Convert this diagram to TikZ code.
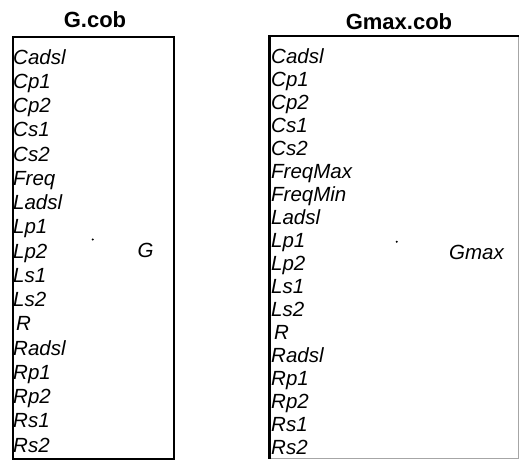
\documentclass[tikz,border=0pt]{standalone}
\usepackage{fontspec}
\setmainfont{Liberation Sans}
\begin{document}
\begin{tikzpicture}[x=1pt,y=-1pt,
  item/.style={anchor=base west,inner sep=0pt,font=\fontsize{20.5}{24}\selectfont\itshape},
  ttl/.style={anchor=base,inner sep=0pt,font=\fontsize{22}{26}\selectfont\bfseries},
  thick box/.style={line width=2.6pt,black},
  dotmark/.style={circle,fill=black,inner sep=0pt,minimum size=2.2pt}]
\useasboundingbox (0,0) rectangle (519,459);
% G block
\node[ttl] (gt) at (95,27) {G.cob};
\node[draw,thick box,anchor=north west,minimum width=161pt,minimum height=422pt,inner sep=0pt] (gbox) at (11.5,35.5) {};
\foreach \t [count=\i from 0] in {Cadsl,Cp1,Cp2,Cs1,Cs2,Freq,Ladsl,Lp1,Lp2,Ls1,Ls2,\hspace{3pt}R,Radsl,Rp1,Rp2,Rs1,Rs2}{
  \node[item] (g\i) at (13,64+24.25*\i) {\t};
}
\node[dotmark] (gd) at (92.7,239.5) {};
\node[item,anchor=center] (gl) at (145.5,250.5) {G};
% Gmax block
\node[ttl] (mt) at (399,29.5) {Gmax.cob};
\coordinate (m1) at (518.5,36);
\coordinate (m2) at (269.5,36);
\coordinate (m3) at (269.5,458);
\draw[gray!70,line width=0.9pt] (m1) -- (518.5,458) -- (m3);
\draw[thick box,line cap=rect] (m1) -- (m2) -- (m3);
\foreach \t [count=\i from 0] in {Cadsl,Cp1,Cp2,Cs1,Cs2,FreqMax,FreqMin,Ladsl,Lp1,Lp2,Ls1,Ls2,\hspace{3pt}R,Radsl,Rp1,Rp2,Rs1,Rs2}{
  \node[item] (m\i) at (271,63.5+23.0*\i) {\t};
}
\node[dotmark] (md) at (396.7,241.7) {};
\node[item,anchor=center] (ml) at (476.5,252.5) {Gmax};
\end{tikzpicture}
\end{document}
